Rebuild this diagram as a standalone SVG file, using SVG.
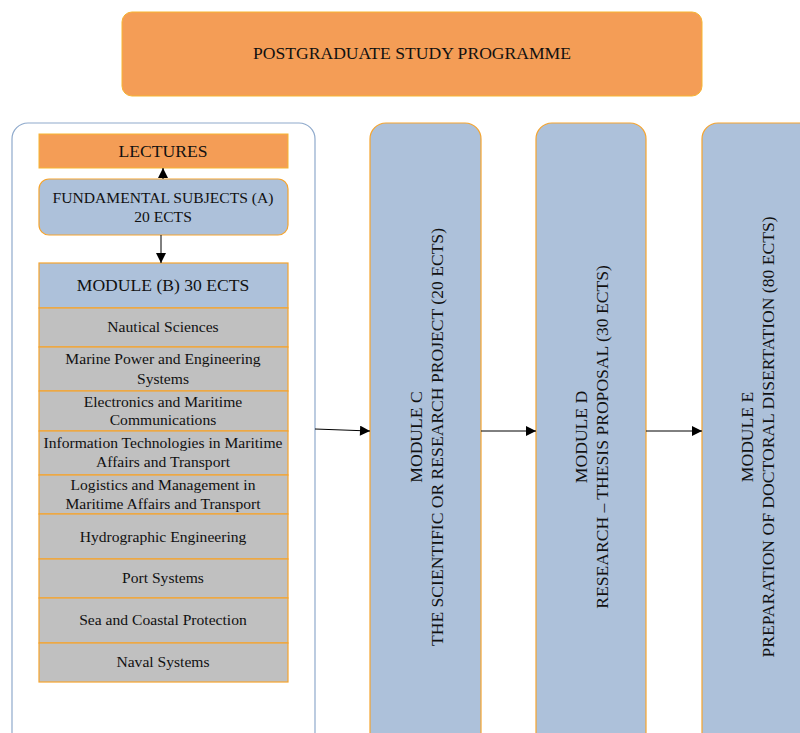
<svg xmlns="http://www.w3.org/2000/svg" width="800" height="733" viewBox="0 0 800 733">
<defs>
<style>
text{font-family:"Liberation Serif","Times New Roman",serif;fill:#111;text-anchor:middle}
.org{fill:#f49d56;stroke:#f7b531;stroke-width:1}
.blue{fill:#adc1da;stroke:#f5a42e;stroke-width:1.2}
.gray{fill:#c0c0c0;stroke:#f5a42e;stroke-width:1.2}
.t15{font-size:17.6px}
.t14{font-size:15.6px}
.t13{font-size:15.6px}
.con{stroke:#000;stroke-width:1;fill:none}
</style>
<marker id="ah" viewBox="0 0 10 10" refX="10" refY="5" markerWidth="15" markerHeight="10" markerUnits="userSpaceOnUse" orient="auto"><path d="M0,0 L10,5 L0,10 Z" fill="#000"/></marker>
<marker id="ahs" viewBox="0 0 10 10" refX="10" refY="5" markerWidth="11" markerHeight="10" markerUnits="userSpaceOnUse" orient="auto"><path d="M0,0 L10,5 L0,10 Z" fill="#000"/></marker>
</defs>
<g id="header"><rect class="org" x="122" y="12" width="580" height="84" rx="10"/><text class="t15" x="412" y="59">POSTGRADUATE STUDY PROGRAMME</text></g>
<g id="panel"><rect x="12" y="123" width="303" height="625" rx="16" fill="#fff" stroke="#8faacc" stroke-width="1.2"/></g>
<g id="lectures"><rect class="org" x="39" y="134" width="249" height="34"/><text class="t15" x="163" y="157">LECTURES</text></g>
<g id="fundamental"><rect class="blue" x="39" y="179" width="249" height="56" rx="10"/><text class="t14" x="163" y="203">FUNDAMENTAL SUBJECTS (A)</text><text class="t14" x="163" y="222">20 ECTS</text></g>
<g id="moduleB"><rect class="blue" x="39" y="263" width="249" height="45"/><text class="t15" x="163" y="291">MODULE (B) 30 ECTS</text></g>
<g id="b1"><rect class="gray" x="39" y="308" width="249" height="39"/><text class="t13" x="163" y="332">Nautical Sciences</text></g>
<g id="b2"><rect class="gray" x="39" y="347" width="249" height="44"/><text class="t13" x="163" y="364">Marine Power and Engineering</text><text class="t13" x="163" y="384">Systems</text></g>
<g id="b3"><rect class="gray" x="39" y="391" width="249" height="40"/><text class="t13" x="163" y="407">Electronics and Maritime</text><text class="t13" x="163" y="425">Communications</text></g>
<g id="b4"><rect class="gray" x="39" y="431" width="249" height="44"/><text class="t13" x="163" y="448">Information Technologies in Maritime</text><text class="t13" x="163" y="467">Affairs and Transport</text></g>
<g id="b5"><rect class="gray" x="39" y="475" width="249" height="39"/><text class="t13" x="163" y="490">Logistics and Management in</text><text class="t13" x="163" y="509">Maritime Affairs and Transport</text></g>
<g id="b6"><rect class="gray" x="39" y="514" width="249" height="45"/><text class="t13" x="163" y="542">Hydrographic Engineering</text></g>
<g id="b7"><rect class="gray" x="39" y="559" width="249" height="39"/><text class="t13" x="163" y="583">Port Systems</text></g>
<g id="b8"><rect class="gray" x="39" y="598" width="249" height="45"/><text class="t13" x="163" y="625">Sea and Coastal Protection</text></g>
<g id="b9"><rect class="gray" x="39" y="643" width="249" height="39"/><text class="t13" x="163" y="667">Naval Systems</text></g>
<g id="moduleC"><rect class="blue" x="370" y="123" width="111" height="640" rx="16"/><text class="t15" transform="translate(422,437) rotate(-90)">MODULE C</text><text class="t15" transform="translate(443,437) rotate(-90)">THE SCIENTIFIC OR RESEARCH PROJECT (20 ECTS)</text></g>
<g id="moduleD"><rect class="blue" x="536" y="123" width="110" height="640" rx="16"/><text class="t15" transform="translate(587,437) rotate(-90)">MODULE D</text><text class="t15" transform="translate(608,437) rotate(-90)">RESEARCH – THESIS PROPOSAL (30 ECTS)</text></g>
<g id="moduleE"><rect class="blue" x="702" y="123" width="120" height="640" rx="16"/><text class="t15" transform="translate(753,437) rotate(-90)">MODULE E</text><text class="t15" transform="translate(774,437) rotate(-90)">PREPARATION OF DOCTORAL DISERTATION (80 ECTS)</text></g>
<g id="connectors">
<line class="con" x1="163" y1="179" x2="163" y2="168" marker-end="url(#ahs)"/>
<line class="con" x1="161" y1="235" x2="161" y2="263" marker-end="url(#ahs)"/>
<line class="con" x1="315" y1="429" x2="370" y2="431" marker-end="url(#ah)"/>
<line class="con" x1="481" y1="431" x2="536" y2="431" marker-end="url(#ah)"/>
<line class="con" x1="646" y1="431" x2="702" y2="431" marker-end="url(#ah)"/>
</g>
</svg>
